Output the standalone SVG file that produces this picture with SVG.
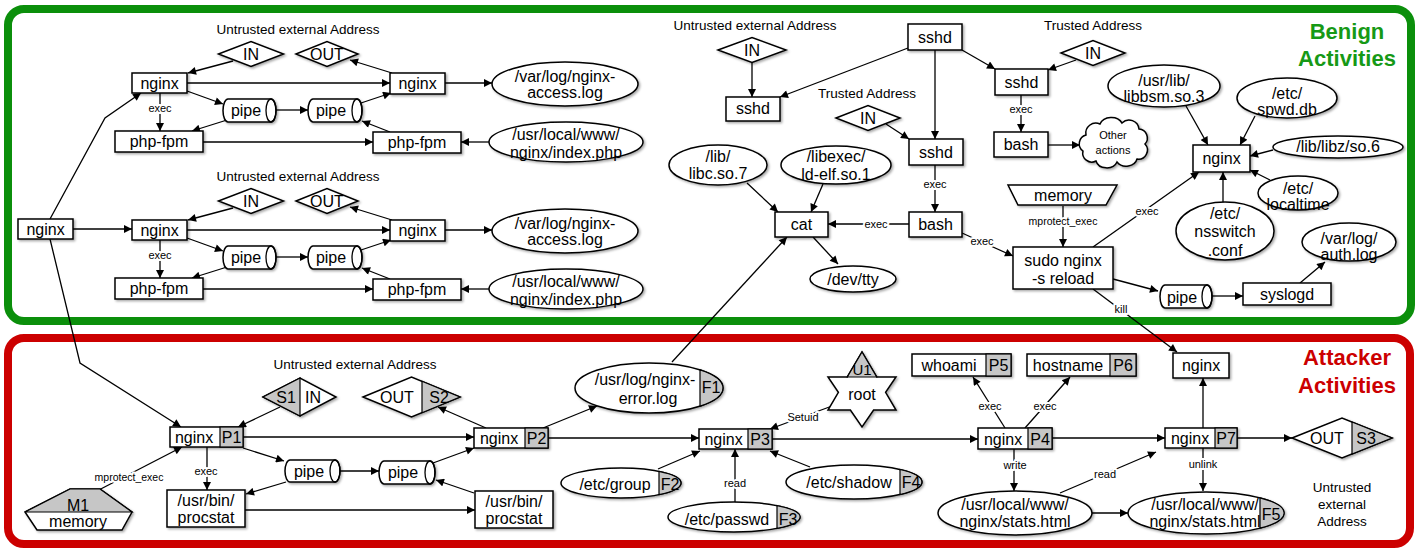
<svg xmlns="http://www.w3.org/2000/svg" width="1422" height="548" viewBox="0 0 1422 548">
<defs>
<style>
.t{font-family:"Liberation Sans",Arial,sans-serif;font-size:16px;text-anchor:middle;fill:#000}
.sm{font-family:"Liberation Sans",Arial,sans-serif;font-size:13.5px;text-anchor:middle;fill:#000}
.el{font-family:"Liberation Sans",Arial,sans-serif;font-size:11px;text-anchor:middle;fill:#000;paint-order:stroke;stroke:#fff;stroke-width:4px;stroke-linejoin:round}
.sh{fill:#fff;stroke:#000;stroke-width:1.5;filter:url(#ds)}
.g{fill:#c6c6c6;stroke:#000;stroke-width:1.2}
.ln{fill:none;stroke:#000;stroke-width:1.3}
.e{fill:none;stroke:#000;stroke-width:1.3;marker-end:url(#ar)}
.big{font-family:"Liberation Sans",Arial,sans-serif;font-size:22px;font-weight:bold;text-anchor:middle}
</style>
<marker id="ar" viewBox="0 0 10 10" refX="10" refY="5" markerWidth="10" markerHeight="8" markerUnits="userSpaceOnUse" orient="auto"><path d="M0,0 L10,5 L0,10 Z" fill="#000"/></marker>
<filter id="ds" x="-20%" y="-20%" width="140%" height="150%"><feDropShadow dx="1.5" dy="1.5" stdDeviation="0.8" flood-color="#000" flood-opacity="0.35"/></filter>
</defs>
<rect width="1422" height="548" fill="#fff"/>

<g id="frame-benign">
<rect x="8" y="9" width="1403" height="312" rx="16" fill="none" stroke="#0b8f0b" stroke-width="8"/>
<text class="big" x="1347" y="39" fill="#169916">Benign</text>
<text class="big" x="1347" y="66" fill="#169916">Activities</text>
</g>
<g id="frame-attacker">
<rect x="8" y="338" width="1402" height="206" rx="16" fill="none" stroke="#cc0000" stroke-width="8"/>
<text class="big" x="1347" y="365" fill="#cc0000">Attacker</text>
<text class="big" x="1347" y="393" fill="#cc0000">Activities</text>
</g>

<g id="labels">
<text class="sm" x="298" y="34">Untrusted external Address</text>
<text class="sm" x="298" y="181">Untrusted external Address</text>
<text class="sm" x="755" y="30">Untrusted external Address</text>
<text class="sm" x="867" y="98">Trusted Address</text>
<text class="sm" x="1093" y="30">Trusted Address</text>
<text class="sm" x="355" y="369">Untrusted external Address</text>
<text class="sm" x="1342" y="492">Untrusted</text>
<text class="sm" x="1342" y="509">external</text>
<text class="sm" x="1342" y="526">Address</text>
</g>

<g id="edges">
<path class="e" d="M233,61 L188,73"/>
<path class="e" d="M187,83 L390,83"/>
<path class="e" d="M392,73 L350,60"/>
<path class="e" d="M187,91 L223,104"/>
<path class="e" d="M276,110 L308,110"/>
<path class="e" d="M361,103 L391,93"/>
<path class="e" d="M227,120 L192,131"/>
<path class="e" d="M390,132 L362,121"/>
<path class="e" d="M203,142 L373,142"/>
<path class="e" d="M489,142 L461,142"/>
<path class="e" d="M445,83 L492,83"/>
<path class="e" d="M160,93 L160,131"/>
<text class="el" x="160" y="112">exec</text>
<path class="e" d="M233,208 L188,220"/>
<path class="e" d="M187,230 L390,230"/>
<path class="e" d="M392,220 L350,207"/>
<path class="e" d="M187,238 L223,251"/>
<path class="e" d="M276,257 L308,257"/>
<path class="e" d="M361,250 L391,240"/>
<path class="e" d="M227,267 L192,278"/>
<path class="e" d="M390,279 L362,268"/>
<path class="e" d="M203,289 L373,289"/>
<path class="e" d="M489,289 L461,289"/>
<path class="e" d="M445,230 L492,230"/>
<path class="e" d="M160,240 L160,278"/>
<text class="el" x="160" y="259">exec</text>
<path class="e" d="M73,229 L132,229"/>
<path class="e" d="M50,219 L105,118 L141,93"/>
<path class="e" d="M50,239 L80,363 L181,427"/>
<path class="e" d="M752,63 L752,97"/>
<path class="e" d="M908,48 L780,97"/>
<path class="e" d="M886,124 L909,139"/>
<path class="e" d="M935,50 L935,139"/>
<path class="e" d="M962,50 L995,69"/>
<path class="e" d="M1076,60 L1048,70"/>
<path class="e" d="M1021,95 L1021,132"/>
<text class="el" x="1021" y="113">exec</text>
<path class="e" d="M1048,145 L1080,145"/>
<path class="e" d="M1186,106 L1208,145"/>
<path class="e" d="M1255,116 L1240,145"/>
<path class="e" d="M1273,150 L1250,156"/>
<path class="e" d="M1270,180 L1250,170"/>
<path class="e" d="M1223,202 L1223,172"/>
<path class="e" d="M1063,206 L1063,247"/>
<text class="el" x="1063" y="225" style="font-size:10.5px">mprotect_exec</text>
<path class="e" d="M935,165 L935,212"/>
<text class="el" x="935" y="188">exec</text>
<path class="e" d="M962,233 L1013,256"/>
<text class="el" x="982" y="245">exec</text>
<path class="e" d="M909,224 L828,224"/>
<text class="el" x="876" y="228">exec</text>
<path class="e" d="M747,183 L778,212"/>
<path class="e" d="M823,184 L811,212"/>
<path class="e" d="M813,237 L838,264"/>
<path class="e" d="M672,362 L787,237"/>
<path class="e" d="M1093,247 L1199,172"/>
<text class="el" x="1147" y="215">exec</text>
<path class="e" d="M1113,279 L1158,291"/>
<path class="e" d="M1212,296 L1243,296"/>
<path class="e" d="M1300,283 L1325,262"/>
<path class="e" d="M1093,289 L1177,352"/>
<text class="el" x="1121" y="313">kill</text>
<path class="e" d="M280,407 L238,427"/>
<path class="e" d="M93,493 L182,447"/>
<text class="el" x="129" y="481" style="font-size:10.5px">mprotect_exec</text>
<path class="e" d="M207,447 L207,490"/>
<text class="el" x="206" y="475">exec</text>
<path class="e" d="M243,448 L284,461"/>
<path class="e" d="M286,482 L246,494"/>
<path class="e" d="M243,437 L474,437"/>
<path class="e" d="M245,510 L475,510"/>
<path class="e" d="M340,471 L379,471"/>
<path class="e" d="M433,463 L474,448"/>
<path class="e" d="M474,493 L436,480"/>
<path class="e" d="M486,428 L438,407"/>
<path class="e" d="M543,428 L597,406"/>
<path class="e" d="M548,438 L699,438"/>
<path class="e" d="M658,469 L700,451"/>
<path class="e" d="M735,502 L735,449"/>
<text class="el" x="735" y="487">read</text>
<path class="e" d="M810,467 L770,451"/>
<path class="e" d="M832,406 L770,429"/>
<text class="el" x="803" y="421">Setuid</text>
<path class="e" d="M772,439 L978,439"/>
<path class="e" d="M1005,428 L973,377"/>
<text class="el" x="990" y="410">exec</text>
<path class="e" d="M1025,428 L1070,377"/>
<text class="el" x="1045" y="410">exec</text>
<path class="e" d="M1014,449 L1014,491"/>
<text class="el" x="1015" y="469">write</text>
<path class="e" d="M1052,438 L1165,438"/>
<path class="e" d="M1060,493 L1156,452"/>
<text class="el" x="1105" y="478">read</text>
<path class="e" d="M1092,513 L1128,513"/>
<path class="e" d="M1203,448 L1203,491"/>
<text class="el" x="1203" y="468">unlink</text>
<path class="e" d="M1203,428 L1203,378"/>
<path class="e" d="M1237,438 L1292,438"/>
</g>

<g id="in1"><polygon class="sh" points="218.5,54 251,41.5 283.5,54 251,66.5"/><text class="t" x="251" y="60">IN</text></g>
<g id="out1"><polygon class="sh" points="296,54 327,41.5 358,54 327,66.5"/><text class="t" x="327" y="60">OUT</text></g>
<g id="nginxA1"><rect class="sh" x="132" y="73" width="55" height="20"/><text class="t" x="159.5" y="89">nginx</text></g>
<g id="pipeA1"><path class="sh" d="M228,99 L271,99 A5,11.5 0 0 1 271,122 L228,122 A5,11.5 0 0 1 228,99 Z"/><ellipse cx="271" cy="110.5" rx="5" ry="11.5" fill="none" stroke="#000" stroke-width="1.3"/><text class="t" x="246" y="116">pipe</text></g>
<g id="pipeB1"><path class="sh" d="M313,99 L357,99 A5,11.5 0 0 1 357,122 L313,122 A5,11.5 0 0 1 313,99 Z"/><ellipse cx="357" cy="110.5" rx="5" ry="11.5" fill="none" stroke="#000" stroke-width="1.3"/><text class="t" x="331" y="116">pipe</text></g>
<g id="phpA1"><rect class="sh" x="115" y="131" width="88" height="21"/><text class="t" x="159" y="147">php-fpm</text></g>
<g id="nginxB1"><rect class="sh" x="390" y="73" width="55" height="21"/><text class="t" x="417.5" y="89">nginx</text></g>
<g id="phpB1"><rect class="sh" x="373" y="132" width="88" height="21"/><text class="t" x="417" y="148">php-fpm</text></g>
<g id="access1"><ellipse class="sh" cx="565" cy="84" rx="73" ry="22"/><text class="t" x="565" y="82">/var/log/nginx-</text><text class="t" x="565" y="98">access.log</text></g>
<g id="index1"><ellipse class="sh" cx="566" cy="142" rx="77" ry="20"/><text class="t" x="566" y="140">/usr/local/www/</text><text class="t" x="566" y="158">nginx/index.php</text></g>

<g id="in2"><polygon class="sh" points="218.5,201 251,188.5 283.5,201 251,213.5"/><text class="t" x="251" y="207">IN</text></g>
<g id="out2"><polygon class="sh" points="296,201 327,188.5 358,201 327,213.5"/><text class="t" x="327" y="207">OUT</text></g>
<g id="nginxA2"><rect class="sh" x="132" y="220" width="55" height="20"/><text class="t" x="159.5" y="236">nginx</text></g>
<g id="pipeA2"><path class="sh" d="M228,246 L271,246 A5,11.5 0 0 1 271,269 L228,269 A5,11.5 0 0 1 228,246 Z"/><ellipse cx="271" cy="257.5" rx="5" ry="11.5" fill="none" stroke="#000" stroke-width="1.3"/><text class="t" x="246" y="263">pipe</text></g>
<g id="pipeB2"><path class="sh" d="M313,246 L357,246 A5,11.5 0 0 1 357,269 L313,269 A5,11.5 0 0 1 313,246 Z"/><ellipse cx="357" cy="257.5" rx="5" ry="11.5" fill="none" stroke="#000" stroke-width="1.3"/><text class="t" x="331" y="263">pipe</text></g>
<g id="phpA2"><rect class="sh" x="115" y="278" width="88" height="21"/><text class="t" x="159" y="294">php-fpm</text></g>
<g id="nginxB2"><rect class="sh" x="390" y="220" width="55" height="21"/><text class="t" x="417.5" y="236">nginx</text></g>
<g id="phpB2"><rect class="sh" x="373" y="279" width="88" height="21"/><text class="t" x="417" y="295">php-fpm</text></g>
<g id="access2"><ellipse class="sh" cx="565" cy="231" rx="73" ry="22"/><text class="t" x="565" y="229">/var/log/nginx-</text><text class="t" x="565" y="245">access.log</text></g>
<g id="index2"><ellipse class="sh" cx="566" cy="289" rx="77" ry="20"/><text class="t" x="566" y="287">/usr/local/www/</text><text class="t" x="566" y="305">nginx/index.php</text></g>

<g id="nginx0"><rect class="sh" x="18" y="219" width="55" height="20"/><text class="t" x="45.5" y="235">nginx</text></g>

<g id="in3"><polygon class="sh" points="718,50 752,37.5 786,50 752,62.5"/><text class="t" x="752" y="56">IN</text></g>
<g id="sshdL"><rect class="sh" x="726" y="97" width="54" height="24"/><text class="t" x="753" y="114">sshd</text></g>
<g id="sshdT"><rect class="sh" x="908" y="24" width="54" height="26"/><text class="t" x="935" y="43">sshd</text></g>
<g id="in4"><polygon class="sh" points="836,118 868,105.5 900,118 868,130.5"/><text class="t" x="868" y="124">IN</text></g>
<g id="sshdM"><rect class="sh" x="909" y="139" width="54" height="26"/><text class="t" x="936" y="158">sshd</text></g>
<g id="sshdR"><rect class="sh" x="995" y="69" width="53" height="26"/><text class="t" x="1021.5" y="88">sshd</text></g>
<g id="in5"><polygon class="sh" points="1061,53 1093,40.5 1125,53 1093,65.5"/><text class="t" x="1093" y="59">IN</text></g>
<g id="bashR"><rect class="sh" x="994" y="132" width="54" height="25"/><text class="t" x="1021" y="150">bash</text></g>
<g id="other"><path class="sh" d="M1086,135 A10,10 0 0 1 1100,124 A12,10 0 0 1 1122,123 A10,10 0 0 1 1139,129 A9,9 0 0 1 1145,144 A9,9 0 0 1 1137,159 A11,9 0 0 1 1117,162 A11,9 0 0 1 1096,161 A9,9 0 0 1 1083,151 A9,9 0 0 1 1086,135 Z"/><text class="t" x="1113" y="139" style="font-size:11px">Other</text><text class="t" x="1113" y="154" style="font-size:11px">actions</text></g>
<g id="libbsm"><ellipse class="sh" cx="1164" cy="86" rx="56" ry="21"/><text class="t" x="1164" y="86">/usr/lib/</text><text class="t" x="1164" y="102">libbsm.so.3</text></g>
<g id="spwd"><ellipse class="sh" cx="1287" cy="98" rx="50" ry="20"/><text class="t" x="1287" y="99">/etc/</text><text class="t" x="1287" y="115">spwd.db</text></g>
<g id="libz"><ellipse class="sh" cx="1338" cy="147" rx="65" ry="11"/><text class="t" x="1338" y="152">/lib/libz/so.6</text></g>
<g id="nginxTR"><rect class="sh" x="1193" y="145" width="57" height="27"/><text class="t" x="1221.5" y="164">nginx</text></g>
<g id="localtime"><ellipse class="sh" cx="1298" cy="193" rx="40" ry="17"/><text class="t" x="1298" y="194">/etc/</text><text class="t" x="1298" y="210">localtime</text></g>
<g id="nsswitch"><ellipse class="sh" cx="1225" cy="231" rx="49" ry="29"/><text class="t" x="1225" y="219">/etc/</text><text class="t" x="1225" y="237">nsswitch</text><text class="t" x="1225" y="256">.conf</text></g>
<g id="memory"><polygon class="sh" points="1008,185 1117,185 1106,205 1018,205"/><text class="t" x="1063" y="201">memory</text></g>
<g id="sudo"><rect class="sh" x="1013" y="247" width="100" height="42"/><text class="t" x="1063" y="266">sudo nginx</text><text class="t" x="1063" y="284">-s reload</text></g>
<g id="bashM"><rect class="sh" x="909" y="212" width="53" height="25"/><text class="t" x="935.5" y="230">bash</text></g>
<g id="cat"><rect class="sh" x="775" y="212" width="53" height="25"/><text class="t" x="801.5" y="230">cat</text></g>
<g id="libc"><ellipse class="sh" cx="718" cy="165" rx="49" ry="20"/><text class="t" x="718" y="162">/lib/</text><text class="t" x="718" y="179">libc.so.7</text></g>
<g id="ldelf"><ellipse class="sh" cx="836" cy="165" rx="55" ry="19"/><text class="t" x="836" y="162">/libexec/</text><text class="t" x="836" y="180">ld-elf.so.1</text></g>
<g id="tty"><ellipse class="sh" cx="853" cy="279" rx="43" ry="13"/><text class="t" x="853" y="285">/dev/tty</text></g>
<g id="pipeTR"><path class="sh" d="M1165,285 L1207,285 A5,11.5 0 0 1 1207,308 L1165,308 A5,11.5 0 0 1 1165,285 Z"/><ellipse cx="1207" cy="296.5" rx="5" ry="11.5" fill="none" stroke="#000" stroke-width="1.3"/><text class="t" x="1182" y="303">pipe</text></g>
<g id="syslogd"><rect class="sh" x="1243" y="283" width="88" height="22"/><text class="t" x="1287" y="300">syslogd</text></g>
<g id="auth"><ellipse class="sh" cx="1349" cy="242" rx="47" ry="19"/><text class="t" x="1349" y="244">/var/log/</text><text class="t" x="1349" y="260">auth.log</text></g>

<g id="s1"><polygon class="sh" points="263,397 300,378 336,397 300,416"/><polygon class="g" points="263,397 300,378 300,416"/><text class="t" x="286" y="403">S1</text><text class="t" x="313" y="403">IN</text></g>
<g id="p1"><rect class="sh" x="170" y="427" width="73" height="20"/><rect class="g" x="220" y="427" width="23" height="20"/><text class="t" x="194" y="443">nginx</text><text class="t" x="231.5" y="443">P1</text></g>
<g id="m1"><polygon class="sh" points="25,512 70,489 100,489 132,512 122,530 37,530"/><polygon class="g" points="25,512 70,489 100,489 132,512"/><text class="t" x="78" y="511">M1</text><text class="t" x="78" y="527">memory</text></g>
<g id="procstat1"><rect class="sh" x="167" y="490" width="78" height="37"/><text class="t" x="206" y="506">/usr/bin/</text><text class="t" x="206" y="523">procstat</text></g>
<g id="pipeR1"><path class="sh" d="M290,460 L335,460 A5,11 0 0 1 335,482 L290,482 A5,11 0 0 1 290,460 Z"/><ellipse cx="335" cy="471" rx="5" ry="11" fill="none" stroke="#000" stroke-width="1.3"/><text class="t" x="309" y="477">pipe</text></g>
<g id="pipeR2"><path class="sh" d="M384,461 L430,461 A5,11.5 0 0 1 430,484 L384,484 A5,11.5 0 0 1 384,461 Z"/><ellipse cx="430" cy="472.5" rx="5" ry="11.5" fill="none" stroke="#000" stroke-width="1.3"/><text class="t" x="403" y="478">pipe</text></g>
<g id="procstat2"><rect class="sh" x="475" y="491" width="78" height="37"/><text class="t" x="514" y="507">/usr/bin/</text><text class="t" x="514" y="524">procstat</text></g>
<g id="p2"><rect class="sh" x="474" y="428" width="74" height="20"/><rect class="g" x="525" y="428" width="23" height="20"/><text class="t" x="499" y="444">nginx</text><text class="t" x="536.5" y="444">P2</text></g>
<g id="s2"><polygon class="sh" points="363,397 411.5,377 460,397 411.5,417"/><polygon class="g" points="422,381.3 460,397 422,412.7"/><text class="t" x="397" y="403">OUT</text><text class="t" x="439" y="403">S2</text></g>
<g id="f1"><ellipse class="sh" cx="649" cy="388" rx="74" ry="25"/><path class="g" d="M700,369.9 A74,25 0 0 1 700,406.1 Z"/><text class="t" x="645" y="385">/usr/log/nginx-</text><text class="t" x="648" y="404">error.log</text><text class="t" x="711" y="393">F1</text></g>
<g id="p3"><rect class="sh" x="699" y="429" width="73" height="20"/><rect class="g" x="748" y="429" width="24" height="20"/><text class="t" x="723.5" y="445">nginx</text><text class="t" x="760" y="445">P3</text></g>
<g id="f2"><ellipse class="sh" cx="621" cy="483" rx="60" ry="15"/><path class="g" d="M659,471.4 A60,15 0 0 1 659,494.6 Z"/><text class="t" x="615" y="490">/etc/group</text><text class="t" x="670" y="490">F2</text></g>
<g id="f3"><ellipse class="sh" cx="734" cy="517" rx="66" ry="15"/><path class="g" d="M777,505.6 A66,15 0 0 1 777,528.4 Z"/><text class="t" x="727" y="525">/etc/passwd</text><text class="t" x="788" y="525">F3</text></g>
<g id="f4"><ellipse class="sh" cx="854" cy="482" rx="68" ry="17"/><path class="g" d="M900,469.5 A68,17 0 0 1 900,494.5 Z"/><text class="t" x="849" y="488">/etc/shadow</text><text class="t" x="911" y="488">F4</text></g>
<g id="u1"><polygon class="sh" points="862,352 876.7,377 896,377 885.6,392.3 896,410 873.6,410 862,427 850.4,410 828,410 838.4,392.3 828,377 847.3,377"/><polygon class="g" points="862,352 876.7,377 847.3,377"/><text class="t" x="862" y="375" style="font-size:15px">U1</text><text class="t" x="862" y="400">root</text></g>
<g id="p4"><rect class="sh" x="978" y="428" width="74" height="21"/><rect class="g" x="1028" y="428" width="24" height="21"/><text class="t" x="1003" y="445">nginx</text><text class="t" x="1040" y="445">P4</text></g>
<g id="p5"><rect class="sh" x="912" y="354" width="99" height="22"/><rect class="g" x="986" y="354" width="25" height="22"/><text class="t" x="949" y="371">whoami</text><text class="t" x="998.5" y="371">P5</text></g>
<g id="p6"><rect class="sh" x="1027" y="354" width="109" height="22"/><rect class="g" x="1110" y="354" width="26" height="22"/><text class="t" x="1068" y="371">hostname</text><text class="t" x="1123" y="371">P6</text></g>
<g id="stats"><ellipse class="sh" cx="1015" cy="513" rx="77" ry="22"/><text class="t" x="1015" y="510">/usr/local/www/</text><text class="t" x="1015" y="527">nginx/stats.html</text></g>
<g id="p7"><rect class="sh" x="1165" y="428" width="72" height="20"/><rect class="g" x="1215" y="428" width="22" height="20"/><text class="t" x="1190" y="444">nginx</text><text class="t" x="1226" y="444">P7</text></g>
<g id="f5"><ellipse class="sh" cx="1206" cy="513" rx="78" ry="21"/><path class="g" d="M1260,497.8 A78,21 0 0 1 1260,528.2 Z"/><text class="t" x="1205" y="510">/usr/local/www/</text><text class="t" x="1205" y="527">nginx/stats.html</text><text class="t" x="1271" y="520">F5</text></g>
<g id="nginxR"><rect class="sh" x="1173" y="353" width="56" height="25"/><text class="t" x="1201" y="371">nginx</text></g>
<g id="s3"><polygon class="sh" points="1292,438 1342,418 1392,438 1342,458"/><polygon class="g" points="1352,422 1392,438 1352,454"/><text class="t" x="1327" y="444">OUT</text><text class="t" x="1366" y="444">S3</text></g>
</svg>
